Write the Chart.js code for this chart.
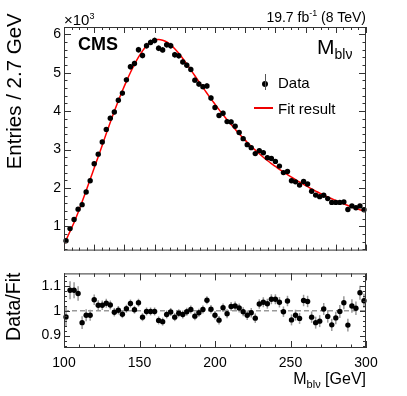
<!DOCTYPE html>
<html lang="en">
<head>
  <meta charset="UTF-8">
  <title>M_blv fit</title>
  <script src="https://cdn.jsdelivr.net/npm/chart.js"></script>
  <style>
    body { margin: 0; width: 407px; height: 396px; background: #fff; position: relative; overflow: hidden;
           font-family: 'Liberation Sans', Arial, sans-serif; color: #000; }
    canvas { position: absolute; left: 0; }
    .t { position: absolute; line-height: 1; white-space: nowrap; }
    .sup { position: relative; top: -6px; font-size: 9px; }
    .sub { position: relative; top: 5px; font-size: 14px; }
    .sub2 { position: relative; top: 4px; font-size: 11px; }
    .rot { transform: rotate(-90deg); text-align: center; }
  </style>
</head>
<body>
  <canvas id="top" width="407" height="262" style="top:0"></canvas>
  <canvas id="ratio" width="407" height="134" style="top:262px"></canvas>

  <div class="t" style="left:64px; top:12px; font-size:15px;">&times;10<span class="sup">3</span></div>
  <div class="t" style="right:41px; top:10px; font-size:14px;">19.7 fb<span class="sup">-1</span> (8 TeV)</div>
  <div class="t" style="left:78px; top:35px; font-size:18px; font-weight:bold;">CMS</div>
  <div class="t" style="left:317px; top:36px; font-size:21px;">M<span class="sub">blν</span></div>

  <div class="t" style="left:262px; top:81px; width:6px; height:6px; border-radius:3px; background:#000;"></div>
  <div class="t" style="left:264.5px; top:74px; width:1px; height:16px; background:#555;"></div>
  <div class="t" style="left:278px; top:75px; font-size:15px;">Data</div>
  <div class="t" style="left:254px; top:107px; width:19px; height:1.5px; background:#e00;"></div>
  <div class="t" style="left:278px; top:101px; font-size:15px;">Fit result</div>

  <div class="t rot" style="left:-86px; top:81px; width:200px; font-size:20.5px;">Entries / 2.7 GeV</div>
  <div class="t rot" style="left:-86px; top:297px; width:200px; font-size:19.5px;">Data/Fit</div>
  <div class="t" style="right:41px; top:371px; font-size:16px;">M<span class="sub2">blν</span> [GeV]</div>

  <script>
    // binning of the histogram
    const xLow = 100;
    const xHigh = 300;
    const nBins = 75;

    const counts = [625, 942, 1180, 1449, 1566, 1896, 2190, 2630, 2880, 3195,
      3525, 3817, 3977, 4282, 4469, 4815, 5155, 5239, 5598, 5449,
      5703, 5789, 5840, 5637, 5594, 5728, 5703, 5467, 5442, 5281,
      5196, 5086, 4807, 4706, 4638, 4655, 4342, 4096, 3885, 3944,
      3728, 3720, 3606, 3445, 3284, 3128, 3050, 2895, 2971, 2915,
      2790, 2768, 2692, 2570, 2400, 2430, 2190, 2160, 2075, 2168,
      2104, 1914, 1815, 1774, 1812, 1723, 1625, 1625, 1625, 1635,
      1440, 1533, 1485, 1533, 1435];
    const countErr = [25, 31, 34, 38, 40, 44, 47, 51, 54, 57,
      59, 62, 63, 65, 67, 69, 72, 72, 75, 74,
      76, 76, 76, 75, 75, 76, 76, 74, 74, 73,
      72, 71, 69, 69, 68, 68, 66, 64, 62, 63,
      61, 61, 60, 59, 57, 56, 55, 54, 55, 54,
      53, 53, 52, 51, 49, 49, 47, 46, 46, 47,
      46, 44, 43, 42, 43, 42, 40, 40, 40, 40,
      38, 39, 39, 39, 38];

    // fit curve: value at x = 100, at every bin centre, at x = 300
    const fitValues = [530, 641, 871, 1100, 1360, 1640, 1930, 2225, 2520, 2815, 3115,
      3415, 3710, 3995, 4270, 4530, 4775, 5005, 5215, 5405, 5570,
      5705, 5800, 5855, 5865, 5845, 5800, 5725, 5625, 5505, 5370,
      5225, 5075, 4920, 4765, 4615, 4465, 4320, 4180, 4040, 3905,
      3775, 3650, 3530, 3410, 3300, 3190, 3085, 2985, 2890, 2800,
      2715, 2635, 2560, 2485, 2415, 2345, 2280, 2215, 2155, 2095,
      2035, 1975, 1920, 1865, 1815, 1765, 1720, 1675, 1630, 1585,
      1545, 1505, 1470, 1435, 1400, 1385];

    const ratio = [0.975, 1.082, 1.082, 1.069, 0.952, 0.982, 0.982, 1.044, 1.022, 1.022,
      1.030, 1.023, 0.994, 1.002, 0.986, 1.008, 1.029, 1.004, 1.032, 0.974,
      0.997, 0.997, 0.997, 0.961, 0.956, 0.985, 0.995, 0.974, 0.990, 0.985,
      0.996, 1.005, 0.978, 0.992, 1.005, 1.042, 1.006, 0.982, 0.962, 1.012,
      0.988, 1.017, 1.019, 1.011, 0.996, 0.982, 0.992, 0.970, 1.027, 1.034,
      1.028, 1.046, 1.046, 1.034, 0.996, 1.039, 0.963, 0.982, 0.969, 1.041,
      1.037, 0.974, 0.952, 0.958, 1.007, 0.977, 0.943, 0.971, 0.997, 1.032,
      0.942, 1.019, 1.010, 1.072, 1.040];
    const ratioErr = [0.040, 0.036, 0.032, 0.029, 0.026, 0.024, 0.022, 0.021, 0.020, 0.019,
      0.018, 0.018, 0.017, 0.017, 0.016, 0.016, 0.016, 0.016, 0.016, 0.016,
      0.016, 0.016, 0.016, 0.016, 0.016, 0.016, 0.016, 0.016, 0.016, 0.016,
      0.016, 0.016, 0.016, 0.016, 0.016, 0.016, 0.017, 0.017, 0.017, 0.017,
      0.018, 0.018, 0.018, 0.018, 0.018, 0.019, 0.019, 0.019, 0.019, 0.020,
      0.020, 0.020, 0.020, 0.021, 0.021, 0.021, 0.022, 0.022, 0.022, 0.023,
      0.023, 0.023, 0.024, 0.024, 0.024, 0.025, 0.025, 0.025, 0.026, 0.026,
      0.026, 0.027, 0.027, 0.028, 0.028];

    const topTicks = [1000, 2000, 3000, 4000, 5000, 6000];
    const ratioTicks = [0.9, 1, 1.1];
    const xTicks = [100, 150, 200, 250, 300];

    const binWidth = (xHigh - xLow) / nBins;
    const centers = counts.map((_, i) => xLow + binWidth * (i + 0.5));
    const fitX = [xLow, ...centers, xHigh];

    const font = { family: "'Liberation Sans', Arial, sans-serif", size: 14 };

    // ROOT style frame with inward ticks on all four sides
    const frameTicks = {
      id: 'frameTicks',
      afterDraw(chart, args, o) {
        const { ctx, chartArea: a, scales: { x, y } } = chart;
        ctx.save();
        ctx.strokeStyle = '#333';
        ctx.lineWidth = 1;
        const marks = (min, max, step) => {
          const out = [];
          for (let k = Math.ceil(min / step - 1e-6); k * step <= max + 1e-6; k++) out.push(k * step);
          return out;
        };
        ctx.beginPath();
        [[o.xMinor, o.xMinLen], [o.xMajor, o.xMajLen]].forEach(([step, len]) => {
          marks(x.min, x.max, step).forEach(v => {
            const px = Math.round(x.getPixelForValue(v)) + 0.5;
            ctx.moveTo(px, a.bottom); ctx.lineTo(px, a.bottom - len);
            ctx.moveTo(px, a.top); ctx.lineTo(px, a.top + len);
          });
        });
        [[o.yMinor, o.yMinLen], [o.yMajor, o.yMajLen]].forEach(([step, len]) => {
          marks(y.min, y.max, step).forEach(v => {
            const py = Math.round(y.getPixelForValue(v)) + 0.5;
            ctx.moveTo(a.left, py); ctx.lineTo(a.left + len, py);
            ctx.moveTo(a.right, py); ctx.lineTo(a.right - len, py);
          });
        });
        ctx.stroke();
        ctx.strokeRect(a.left + 0.5, a.top + 0.5, a.right - a.left - 1, a.bottom - a.top - 1);
        ctx.restore();
      }
    };

    // vertical error bars taken from dataset.errors
    const errorBars = {
      id: 'errorBars',
      beforeDatasetsDraw(chart) {
        const { ctx, scales: { x, y } } = chart;
        ctx.save();
        chart.data.datasets.forEach(ds => {
          if (!ds.errors) return;
          ctx.strokeStyle = ds.errorColor;
          ctx.lineWidth = 1.5;
          ds.data.forEach((p, i) => {
            const px = x.getPixelForValue(p.x);
            ctx.beginPath();
            ctx.moveTo(px, y.getPixelForValue(p.y - ds.errors[i]));
            ctx.lineTo(px, y.getPixelForValue(p.y + ds.errors[i]));
            ctx.stroke();
          });
        });
        ctx.restore();
      }
    };

    new Chart(document.getElementById('top'), {
      type: 'scatter',
      data: {
        datasets: [
          {
            data: centers.map((c, i) => ({ x: c, y: counts[i] })),
            errors: countErr,
            errorColor: '#555',
            backgroundColor: '#000',
            borderWidth: 0,
            pointRadius: 2.7,
            clip: false
          },
          {
            type: 'line',
            data: fitX.map((c, i) => ({ x: c, y: fitValues[i] })),
            borderColor: '#f00',
            borderWidth: 1.5,
            pointRadius: 0,
            tension: 0.3
          }
        ]
      },
      options: {
        responsive: false,
        animation: false,
        events: [],
        layout: { padding: { top: 27, right: 41, bottom: 6, left: 0 } },
        plugins: { legend: { display: false }, tooltip: { enabled: false },
          frameTicks: { xMajor: 20, xMinor: 5, xMajLen: 6, xMinLen: 3, yMajor: 1000, yMinor: 200, yMajLen: 7, yMinLen: 3.5 } },
        scales: {
          x: { type: 'linear', min: xLow, max: xHigh, display: false },
          y: {
            type: 'linear', min: 370, max: 6190,
            grid: { display: false, drawTicks: false },
            border: { display: false },
            afterFit: s => { s.width = 64; },
            afterBuildTicks: s => { s.ticks = topTicks.map(v => ({ value: v })); },
            ticks: { font, color: '#000', padding: 3, callback: v => String(v / 1000) }
          }
        }
      },
      plugins: [frameTicks, errorBars]
    });

    new Chart(document.getElementById('ratio'), {
      type: 'scatter',
      data: {
        datasets: [
          {
            data: centers.map((c, i) => ({ x: c, y: ratio[i] })),
            errors: ratioErr,
            errorColor: '#999',
            backgroundColor: '#000',
            borderWidth: 0,
            pointRadius: 2.7,
            clip: false
          },
          {
            type: 'line',
            data: [{ x: xLow, y: 1 }, { x: xHigh, y: 1 }],
            borderColor: '#999',
            borderWidth: 1.5,
            borderDash: [5, 3],
            pointRadius: 0
          }
        ]
      },
      options: {
        responsive: false,
        animation: false,
        events: [],
        layout: { padding: { top: 6, right: 41, bottom: 0, left: 0 } },
        plugins: { legend: { display: false }, tooltip: { enabled: false },
          frameTicks: { xMajor: 50, xMinor: 10, xMajLen: 7, xMinLen: 3.5, yMajor: 0.1, yMinor: 0.02, yMajLen: 6, yMinLen: 3 } },
        scales: {
          x: {
            type: 'linear', min: xLow, max: xHigh,
            grid: { display: false, drawTicks: false },
            border: { display: false },
            afterFit: s => { s.height = 48; },
            afterBuildTicks: s => { s.ticks = xTicks.map(v => ({ value: v })); },
            ticks: { font, color: '#000', padding: 7, maxRotation: 0 }
          },
          y: {
            type: 'linear', min: 0.85, max: 1.15,
            grid: { display: false, drawTicks: false },
            border: { display: false },
            afterFit: s => { s.width = 64; },
            afterBuildTicks: s => { s.ticks = ratioTicks.map(v => ({ value: v })); },
            ticks: { font, color: '#000', padding: 3, callback: v => String(Math.round(v * 10) / 10) }
          }
        }
      },
      plugins: [frameTicks, errorBars]
    });
  </script>
</body>
</html>
